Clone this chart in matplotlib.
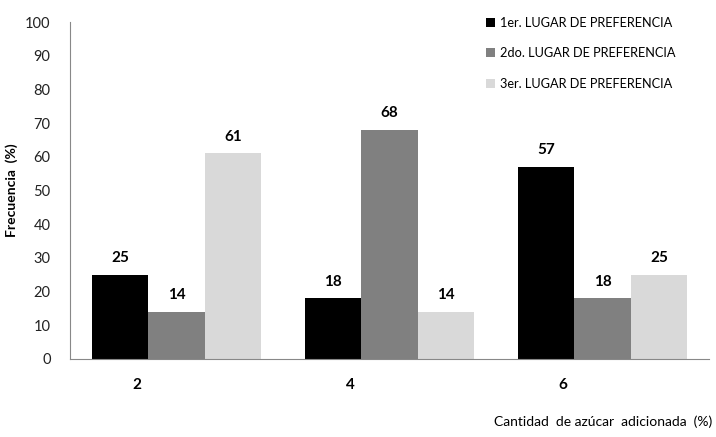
import matplotlib
matplotlib.use("Agg")
import matplotlib.pyplot as plt
import numpy as np

plt.rcParams['font.family'] = ['Lato', 'DejaVu Sans']

categories = ["2", "4", "6"]
series_names = ["1er. LUGAR DE PREFERENCIA", "2do. LUGAR DE PREFERENCIA", "3er. LUGAR DE PREFERENCIA"]
primero = [25, 18, 57]
segundo = [14, 68, 18]
tercero = [61, 14, 25]
yticks = [0, 10, 20, 30, 40, 50, 60, 70, 80, 90, 100]

colors = ["#000000", "#808080", "#D9D9D9"]

fig = plt.figure(figsize=(7.16, 4.37), dpi=100)
ax = fig.add_axes([70/716, 1-359/437, 639/716, 337/437])

x = np.arange(len(categories))
w = 0.265
for i, (vals, name, c) in enumerate(zip([primero, segundo, tercero], series_names, colors)):
    pos = x + (i - 1) * w
    ax.bar(pos, vals, width=w, color=c, label=name)
    for p, v in zip(pos, vals):
        ax.text(p, v + 2.8, str(v), ha='center', va='bottom', fontsize=11, fontweight='bold')

ax.set_xlim(-0.5, 2.5)
ax.set_ylim(0, 100)
ax.set_yticks(yticks)
ax.set_yticklabels([str(t) for t in yticks], fontsize=10.5, color="#222222")
ax.tick_params(axis='y', length=0, pad=14)
ax.set_xticks(x - 0.185)
ax.set_xticklabels(categories, fontsize=11, fontweight='bold')
ax.tick_params(axis='x', length=0, pad=14)

for s in ['top', 'right']:
    ax.spines[s].set_visible(False)
ax.spines['left'].set_color('#888888')
ax.spines['bottom'].set_color('#888888')

ax.set_ylabel("Frecuencia  (%)", fontsize=10, fontweight='bold')
ax.yaxis.set_label_coords((18 - 70) / 639, 0.5)
fig.text(712/716, 1-422/437, "Cantidad  de azúcar  adicionada  (%)", ha='right', va='center', fontsize=10)

leg = ax.legend(loc='upper left', bbox_to_anchor=(404/639, 1.05), frameon=False,
                fontsize=9.2, handlelength=0.75, handleheight=0.75, handletextpad=0.4,
                labelspacing=1.45)

fig.savefig("out.png", dpi=100)
